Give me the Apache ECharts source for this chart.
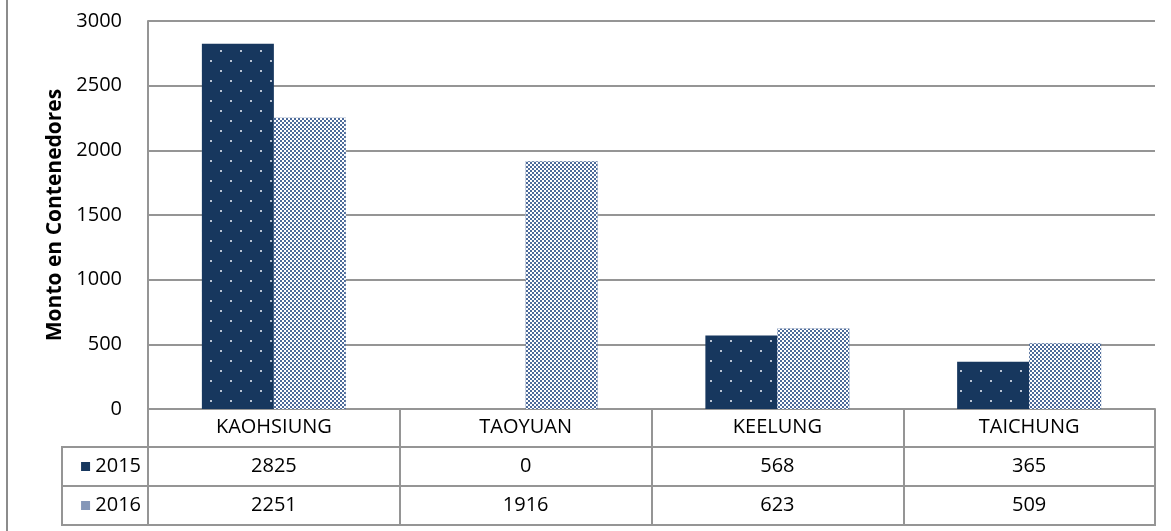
<!DOCTYPE html>
<html>
<head>
<meta charset="utf-8">
<script src="https://cdn.jsdelivr.net/npm/echarts@6/dist/echarts.min.js"></script>
<style>
  html, body { margin: 0; padding: 0; background: #fff; }
  #chart { width: 1171px; height: 531px; }
  #frame { position: absolute; left: 6px; top: 0; width: 2px; height: 531px; background: #8c8c8c; }
</style>
</head>
<body>
<div id="frame"></div>
<div id="chart"></div>
<script>
// datos del grafico
var categories = ['KAOHSIUNG', 'TAOYUAN', 'KEELUNG', 'TAICHUNG'];
var years = ['2015', '2016'];
var values2015 = [2825, 0, 568, 365];
var values2016 = [2251, 1916, 623, 509];
var yMin = 0, yMax = 3000, yStep = 500;

var FONT = '"Open Sans", sans-serif';
var FS = 20;
var GRAY = '#959595';
var NAVY = '#17375e';

// celdas de la tabla de datos (columna, fila, valor)
var tableCells = [];
categories.forEach(function (c, i) {
  tableCells.push([i, 0, values2015[i]]);
  tableCells.push([i, 1, values2016[i]]);
});

var myChart = echarts.init(document.getElementById('chart'));
var option = {
  animation: false,
  textStyle: { fontFamily: FONT },
  grid: [
    { left: 148, top: 21, right: 16, bottom: 122, outerBoundsMode: 'none' },
    { left: 148, top: 447, right: 16, height: 78, outerBoundsMode: 'none',
      show: true, borderColor: GRAY, borderWidth: 2, backgroundColor: 'transparent' }
  ],
  xAxis: [
    {
      type: 'category', gridIndex: 0, data: categories,
      axisLine: { show: true, lineStyle: { color: GRAY, width: 2 } },
      axisTick: { show: true, length: 38, interval: 0, lineStyle: { color: GRAY, width: 2 } },
      axisLabel: { margin: 8, fontSize: FS, color: '#000', fontFamily: FONT, interval: 0 },
      splitLine: { show: false }
    },
    {
      type: 'category', gridIndex: 1, data: categories,
      axisLine: { show: false }, axisTick: { show: false }, axisLabel: { show: false },
      splitLine: { show: true, interval: 0, lineStyle: { color: GRAY, width: 2 } }
    }
  ],
  yAxis: [
    {
      type: 'value', gridIndex: 0, min: yMin, max: yMax, interval: yStep,
      name: 'Monto en Contenedores', nameLocation: 'middle', nameGap: 76,
      nameTextStyle: { fontSize: 21, fontWeight: 'bold', color: '#000', fontFamily: FONT },
      axisLine: { show: true, lineStyle: { color: GRAY, width: 2 } },
      axisTick: { show: false },
      axisLabel: { margin: 26, fontSize: FS, color: '#000', fontFamily: FONT,
        formatter: function (v) { return String(v); } },
      splitLine: { show: true, lineStyle: { color: GRAY, width: 2 } }
    },
    {
      type: 'category', gridIndex: 1, data: years, inverse: true,
      axisLine: { show: false }, axisTick: { show: false },
      splitLine: { show: true, interval: 0, lineStyle: { color: GRAY, width: 2 } },
      axisLabel: {
        margin: 0, interval: 0, align: 'right',
        width: 79, height: 39, lineHeight: 39, padding: [0, 7, 0, 0],
        borderColor: GRAY, borderWidth: 2,
        fontSize: FS, color: '#000', fontFamily: FONT,
        formatter: function (v, i) { return '{ic' + i + '|} ' + v; },
        rich: {
          ic0: { width: 9, height: 9, backgroundColor: NAVY },
          ic1: { width: 9, height: 9, backgroundColor: '#8597b8' }
        }
      }
    }
  ],
  series: [
    {
      name: years[0], type: 'bar', xAxisIndex: 0, yAxisIndex: 0,
      data: values2015, barWidth: 72, barGap: '0%',
      itemStyle: {
        color: NAVY,
        decal: {
          symbol: 'rect', symbolSize: 1, color: '#b9c3d3',
          dashArrayX: [[2, 18], [0, 10, 2, 8]], dashArrayY: [2, 8]
        }
      }
    },
    {
      name: years[1], type: 'bar', xAxisIndex: 0, yAxisIndex: 0,
      data: values2016, barWidth: 72, barGap: '0%',
      itemStyle: {
        color: '#4d6b9a',
        decal: {
          symbol: 'rect', symbolSize: 1, color: '#ffffff',
          dashArrayX: [[2, 2], [0, 2, 2, 0]], dashArrayY: [2, 0]
        }
      }
    },
    {
      type: 'custom', xAxisIndex: 1, yAxisIndex: 1, data: tableCells,
      renderItem: function (params, api) {
        var p = api.coord([api.value(0), api.value(1)]);
        return {
          type: 'text', x: p[0], y: p[1],
          style: {
            text: String(api.value(2)), align: 'center', verticalAlign: 'middle',
            fontSize: FS, fontFamily: FONT, fill: '#000'
          }
        };
      }
    }
  ]
};
myChart.setOption(option);
</script>
</body>
</html>
